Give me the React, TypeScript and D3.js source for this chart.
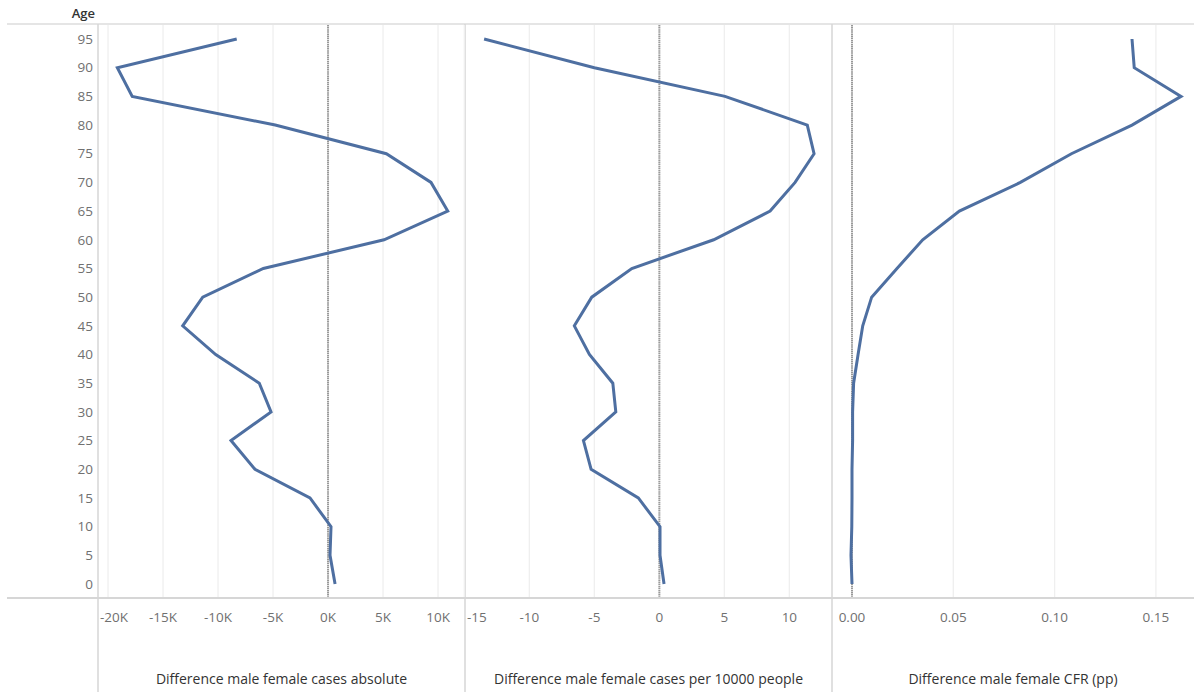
import React from "react";
import * as d3 from "d3";

const ages = [95, 90, 85, 80, 75, 70, 65, 60, 55, 50, 45, 40, 35, 30, 25, 20, 15, 10, 5, 0];
const diffAbsoluteK = [-8.3, -19.15, -17.8, -4.8, 5.3, 9.36, 10.88, 5.09, -5.88, -11.39, -13.21, -10.21, -6.25, -5.18, -8.82, -6.64, -1.64, 0.27, 0.18, 0.64];
const diffPer10000 = [-13.48, -5.0, 5.05, 11.38, 11.9, 10.44, 8.52, 4.18, -2.12, -5.2, -6.54, -5.38, -3.58, -3.35, -5.84, -5.25, -1.62, 0.05, 0.05, 0.36];
const diffCFR = [0.1382, 0.1393, 0.1624, 0.1382, 0.1083, 0.0831, 0.053, 0.0349, 0.0222, 0.0097, 0.0053, 0.003, 0.0008, 0.0003, 0.0003, 0.0, 0.0, -0.0001, -0.0005, 0.0];

const ageTicks = [0, 5, 10, 15, 20, 25, 30, 35, 40, 45, 50, 55, 60, 65, 70, 75, 80, 85, 90, 95];
const ticksAbs = [-20, -15, -10, -5, 0, 5, 10];
const ticksPer = [-15, -10, -5, 0, 5, 10];
const ticksCFR = [0, 0.05, 0.1, 0.15];

const panelTitles = [
  "Difference male female cases absolute",
  "Difference male female cases per 10000 people",
  "Difference male female CFR (pp)",
];

const W = 1194;
const H = 692;
const TOP = 24;
const AXIS_Y = 598;
const LEFT = 98;
const SEP1 = 465;
const SEP2 = 832;
const FONT = "'Open Sans', Lato, sans-serif";

export default function App() {
  const y = d3.scaleLinear().domain([0, 95]).range([584, 39]);

  const panels = [
    {
      values: diffAbsoluteK,
      ticks: ticksAbs,
      fmt: (v: number) => `${v}K`,
      x: d3.scaleLinear().domain([-20.91, 12.45]).range([LEFT, SEP1]),
      left: LEFT,
      right: SEP1,
    },
    {
      values: diffPer10000,
      ticks: ticksPer,
      fmt: (v: number) => `${v}`,
      x: d3.scaleLinear().domain([-14.95, 13.28]).range([SEP1, SEP2]),
      left: SEP1,
      right: SEP2,
    },
    {
      values: diffCFR,
      ticks: ticksCFR,
      fmt: d3.format(".2f"),
      x: d3.scaleLinear().domain([-0.00987, 0.1688]).range([SEP2, W]),
      left: SEP2,
      right: W,
    },
  ];

  return (
    <svg width={W} height={H} style={{ position: "absolute", left: 0, top: 0, background: "#fff" }} fontFamily={FONT}>
      <text x={95} y={18} textAnchor="end" fontSize={13} fontWeight={600} fill="#333">
        Age
      </text>
      <line x1={7} x2={W} y1={TOP} y2={TOP} stroke="#dcdcdc" strokeWidth={1.5} />
      <line x1={7} x2={W} y1={AXIS_Y} y2={AXIS_Y} stroke="#d6d6d6" strokeWidth={2} />
      {[LEFT, SEP1, SEP2].map((sx) => (
        <line key={sx} x1={sx} x2={sx} y1={TOP} y2={H} stroke="#d6d6d6" strokeWidth={1.5} />
      ))}

      {ageTicks.map((a) => (
        <text key={a} x={93} y={y(a)} dy="0.35em" textAnchor="end" fontSize={13.5} fill="#707070">
          {a}
        </text>
      ))}

      {panels.map((p, i) => {
        const line = d3
          .line<number>()
          .x((v) => p.x(v))
          .y((_, j) => y(ages[j]));
        return (
          <g key={i}>
            {p.ticks.map((t) =>
              t === 0 ? null : (
                <line
                  key={t}
                  x1={p.x(t)}
                  x2={p.x(t)}
                  y1={TOP + 1}
                  y2={AXIS_Y - 1}
                  stroke="#efefef"
                  strokeWidth={1.3}
                />
              )
            )}
            <line
              x1={p.x(0)}
              x2={p.x(0)}
              y1={TOP + 1}
              y2={AXIS_Y - 1}
              stroke="#999"
              strokeWidth={2}
              strokeDasharray="1.5,0.6"
            />
            {p.ticks.map((t) => {
              const label = p.fmt(t);
              const approxW = label.length * 7.5;
              const cx = p.x(t);
              const clipped = cx - approxW / 2 < p.left + 3;
              return (
                <text
                  key={t}
                  x={clipped ? p.left + 2 : cx}
                  y={617}
                  dy="0.35em"
                  textAnchor={clipped ? "start" : "middle"}
                  fontSize={13.5}
                  fill="#707070"
                >
                  {label}
                </text>
              );
            })}
            <text
              x={(p.left + p.right) / 2}
              y={679}
              dy="0.35em"
              textAnchor="middle"
              fontSize={14}
              fill="#333"
            >
              {panelTitles[i]}
            </text>
            <path
              d={line(p.values) || ""}
              fill="none"
              stroke="#4e6fa1"
              strokeWidth={3}
              strokeLinejoin="miter"
              strokeLinecap="butt"
            />
          </g>
        );
      })}
    </svg>
  );
}
